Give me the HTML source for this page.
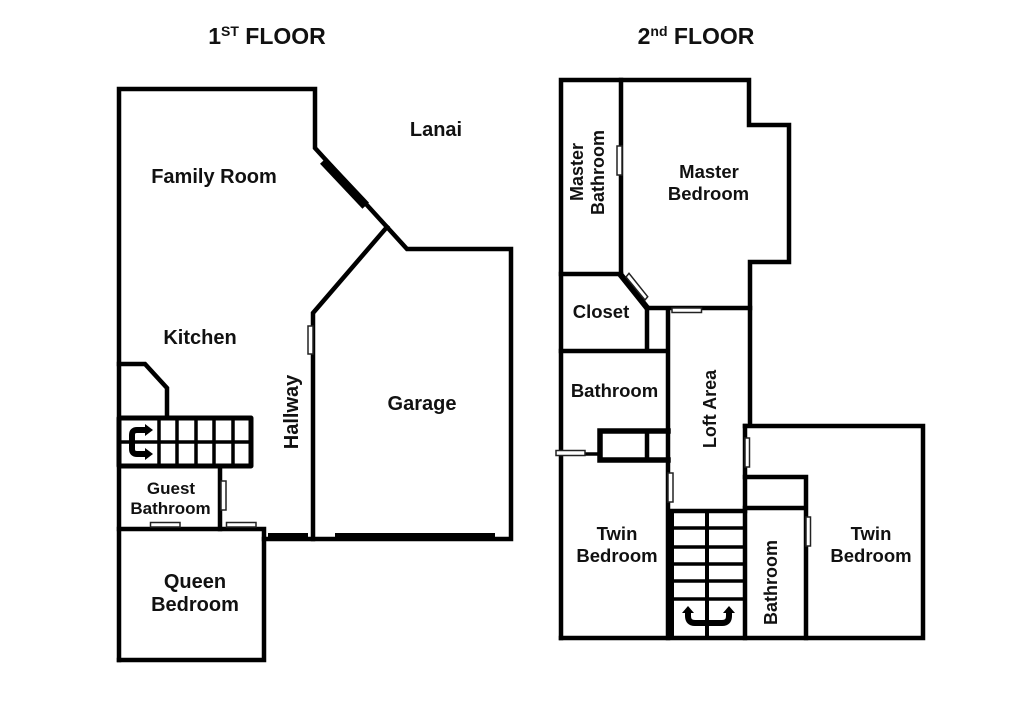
<!DOCTYPE html>
<html><head><meta charset="utf-8"><style>
html,body{margin:0;padding:0;background:#fff;width:1024px;height:701px;overflow:hidden}
svg{display:block}
text{font-family:"Liberation Sans",sans-serif;font-weight:bold;fill:#111;font-size:18.500px;text-anchor:middle}
.f1{font-size:20px}
.v{font-size:18px}
.w{fill:none;stroke:#000;stroke-width:4.5;stroke-linejoin:miter;stroke-linecap:square}
.t{fill:none;stroke:#000;stroke-width:6;stroke-linecap:butt}
.d{fill:#fff;stroke:#222;stroke-width:1.5}
.a{fill:none;stroke:#000;stroke-width:6;stroke-linejoin:round}
</style></head><body>
<svg width="1024" height="701" viewBox="0 0 1024 701" xmlns="http://www.w3.org/2000/svg">
<!-- 1st floor -->
<path class="w" d="M119 660V89H315V148L407 249H511V539H264"/>
<path class="w" d="M119 529H264V660H119"/>
<path class="w" d="M387 227L313 313V539"/>
<path class="w" d="M119 364H145L167 388V418"/>
<path class="w" d="M220 467V529"/>
<path class="t" style="stroke-width:5;stroke-linejoin:round" d="M119 418H251V466H119Z"/>
<path class="w" style="stroke-width:3.500;stroke-linecap:butt" d="M119 442H251M159 418V466M177 418V466M196 418V466M214 418V466M233 418V466"/>
<path class="a" d="M147 430H137Q132 430 132 435V449Q132 454 137 454H147"/>
<path d="M145 424L153 430L145 436ZM145 448L153 454L145 460Z" fill="#000"/>
<path d="M323.300 160.700L365.700 205.700" stroke="#000" stroke-width="9" fill="none"/>
<rect x="268" y="533" width="40" height="7" fill="#000"/>
<rect x="335" y="533" width="160" height="7" fill="#000"/>
<rect class="d" x="308" y="326" width="5" height="28"/>
<rect class="d" x="221" y="481" width="5" height="29"/>
<rect class="d" x="150.500" y="522.500" width="29.500" height="4.500"/>
<rect class="d" x="226.500" y="522.500" width="29.500" height="4.500"/>
<!-- 2nd floor -->
<path class="w" d="M561 638V80H749V125H789V262H750V425"/>
<path class="w" d="M621 80V275"/>
<path class="w" d="M561 274H621"/>
<path class="t" d="M620 274L648 309"/>
<path class="w" d="M648 308H750"/>
<path class="w" d="M647 309V351M668 309V638M561 351H668"/>
<path class="t" style="stroke-width:5.500;stroke-linecap:square" d="M600 431H668M600 431V460H668"/>
<path class="w" d="M647 431V460"/>
<path class="w" style="stroke-width:3.500" d="M585 454H600"/>
<path class="w" d="M745 426H923V638H561"/>
<path class="w" d="M745 426V638"/>
<path class="w" d="M745 477H806V638M745 508H806"/>
<path class="t" d="M671 509V640"/>
<path class="w" d="M745 511H671"/>
<path class="w" style="stroke-width:3.500;stroke-linecap:butt" d="M671 528H745M671 547H745M671 564H745M671 581H745M671 599H745"/>
<path class="w" style="stroke-width:4;stroke-linecap:butt" d="M707 511V638"/>
<path class="a" d="M688 612V616Q688 623 695 623H722Q729 623 729 616V612"/>
<path d="M682 613L688 606L694 613ZM723 613L729 606L735 613Z" fill="#000"/>
<rect class="d" x="617" y="146" width="5" height="29"/>
<rect class="d" x="672" y="308" width="29.500" height="4.500"/>
<rect class="d" x="556" y="450.500" width="29" height="5"/>
<rect class="d" x="668" y="473" width="5" height="29"/>
<rect class="d" x="745" y="438" width="4.500" height="29"/>
<rect class="d" x="806" y="517" width="4.500" height="29"/>
<path d="M626 277L629 273.300L647.700 296.700L645 300Z" class="d"/>
<!-- text -->
<text x="267" y="44" style="font-size:23px">1<tspan dy="-8" style="font-size:14px">ST</tspan><tspan dy="8"> FLOOR</tspan></text>
<text x="696" y="44" style="font-size:23px">2<tspan dy="-8" style="font-size:14px">nd</tspan><tspan dy="8"> FLOOR</tspan></text>
<text class="f1" x="436" y="136">Lanai</text>
<text class="f1" x="214" y="183">Family Room</text>
<text class="f1" x="200" y="344">Kitchen</text>
<text class="f1" x="422" y="410">Garage</text>
<text x="171" y="494" style="font-size:17px">Guest</text>
<text x="170.500" y="514" style="font-size:17px">Bathroom</text>
<text class="f1" x="195" y="588">Queen</text>
<text class="f1" x="195" y="611">Bedroom</text>
<text class="f1" transform="translate(298,412) rotate(-90)">Hallway</text>
<text x="709" y="178">Master</text>
<text x="708.500" y="200">Bedroom</text>
<text class="v" transform="translate(583,172) rotate(-90)">Master</text>
<text class="v" transform="translate(604,172.500) rotate(-90)">Bathroom</text>
<text x="601" y="318">Closet</text>
<text x="614.500" y="397">Bathroom</text>
<text class="v" transform="translate(716,409) rotate(-90)">Loft Area</text>
<text x="617" y="540">Twin</text>
<text x="617" y="562">Bedroom</text>
<text x="871" y="540">Twin</text>
<text x="871" y="562">Bedroom</text>
<text class="v" transform="translate(777,582.500) rotate(-90)">Bathroom</text>
</svg>
</body></html>
